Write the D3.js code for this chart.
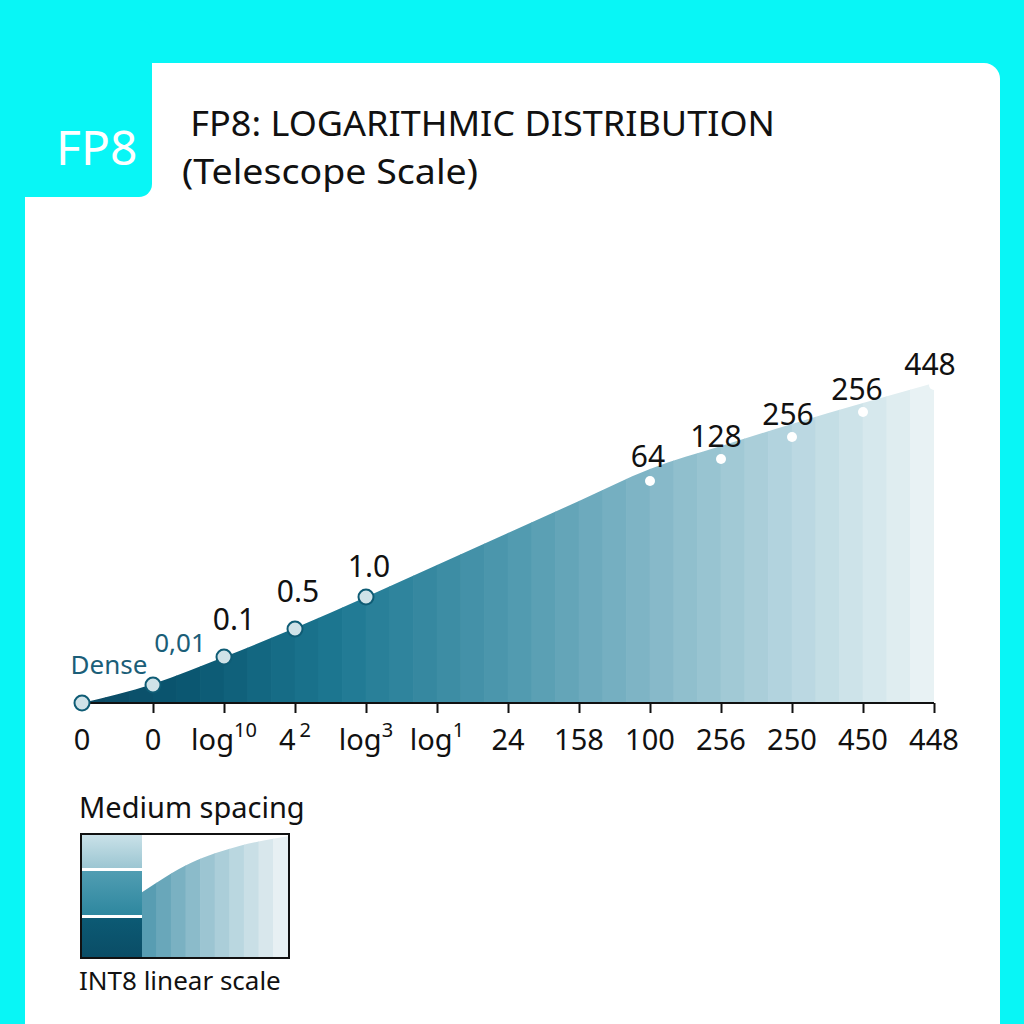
<!DOCTYPE html>
<html>
<head>
<meta charset="utf-8">
<script src="https://cdn.jsdelivr.net/npm/d3@7"></script>
<style>
  html, body { margin: 0; padding: 0; background: #08f6f6; }
  svg { display: block; }
  text { font-family: "Noto Sans", "Open Sans", sans-serif; }
</style>
</head>
<body>
<svg id="chart" width="1024" height="1024"></svg>
<script>
// ---- data ----
const categories = d3.range(13);
const tickLabels = ["0", "0", "log", "4", "log", "log", "24", "158", "100", "256", "250", "450", "448"];
const tickSups   = ["",  "",  "10",  "2", "3",   "1",   "",   "",    "",    "",    "",    "",    ""];
const curveValues = [0, 19, 46, 75, 106, 138, 170, 202, 234, 257, 279, 300, 320];
const markerIndex = [0, 1, 2, 3, 4, 8, 9, 10, 11, 12];
const markerValues = [0, 18, 46, 74, 106, 222, 244, 266, 291, 318];
const markerLabels = ["Dense", "0,01", "0.1", "0.5", "1.0", "64", "128", "256", "256", "448"];
const legendCurve = [0.53, 0.66, 0.77, 0.85, 0.91, 0.955, 0.99];
const titleLines = [" FP8: LOGARITHMIC DISTRIBUTION", "(Telescope Scale)"];
const tabLabel = "FP8";
const legendTitle = "Medium spacing";
const legendCaption = "INT8 linear scale";

// ---- drawing ----
const svg = d3.select("#chart");
const cyan = "#08f6f6";

// background & card
svg.append("rect").attr("x", 0).attr("y", 0).attr("width", 1024).attr("height", 1024).attr("fill", cyan);
svg.append("rect").attr("x", 25).attr("y", 63).attr("width", 975).attr("height", 1100)
  .attr("rx", 16).attr("fill", "#ffffff");
svg.append("rect").attr("x", -40).attr("y", 20).attr("width", 192).attr("height", 177)
  .attr("rx", 13).attr("fill", cyan);
svg.append("text").attr("x", 56).attr("y", 165).attr("font-size", 48).attr("fill", "#ffffff")
  .text(tabLabel);

// title
svg.append("text").attr("x", 181).attr("y", 136).attr("font-size", 34).attr("fill", "#111")
  .attr("textLength", 594).attr("lengthAdjust", "spacingAndGlyphs")
  .attr("xml:space", "preserve").text(titleLines[0]);
svg.append("text").attr("x", 182).attr("y", 184).attr("font-size", 34).attr("fill", "#111")
  .attr("textLength", 296).attr("lengthAdjust", "spacingAndGlyphs")
  .text(titleLines[1]);

// scales
const x = d3.scalePoint().domain(categories).range([82, 934]);
const y = d3.scaleLinear().domain([0, 330]).range([703, 373]);

// area with stripes
const defs = svg.append("defs");
const area = d3.area().x((d, i) => x(i)).y0(y(0)).y1(d => y(d)).curve(d3.curveMonotoneX);
defs.append("clipPath").attr("id", "areaClip").append("path").attr("d", area(curveValues));

const nStripes = 36;
const stripeW = (x(12) - x(0)) / nStripes;
const stripeColor = d3.scaleLinear()
  .domain([0, 0.12, 0.3, 0.5, 0.7, 0.85, 1])
  .range(["#0c4a63", "#0a5670", "#1d7892", "#4e98ae", "#8dbdcc", "#bcd9e2", "#edf4f6"]);
svg.append("g").attr("clip-path", "url(#areaClip)")
  .selectAll("rect").data(d3.range(nStripes)).join("rect")
  .attr("x", i => x(0) + i * stripeW - 0.3)
  .attr("y", y(340))
  .attr("width", stripeW + 0.6)
  .attr("height", y(0) - y(340))
  .attr("fill", i => stripeColor((i + 0.5) / nStripes));

// axis
const axis = d3.axisBottom(x).tickSize(10).tickFormat("");
const gAxis = svg.append("g").attr("transform", `translate(0,${y(0)})`).call(axis);
gAxis.select(".domain").attr("stroke", "#111").attr("stroke-width", 2).attr("d", `M${x(0)},0H${x(12)}`);
gAxis.selectAll(".tick line").attr("stroke", "#111").attr("stroke-width", 2);
gAxis.selectAll(".tick").filter(d => d === 0).remove();

// tick labels with superscripts
const tl = svg.append("g").selectAll("text").data(categories).join("text")
  .attr("x", d => x(d)).attr("y", 750).attr("font-size", 29).attr("fill", "#111")
  .attr("text-anchor", "middle");
tl.append("tspan").text(d => tickLabels[d]);
tl.filter(d => tickSups[d] !== "").append("tspan")
  .attr("dx", d => tickLabels[d] === "4" ? 4 : 0)
  .attr("dy", -13).attr("font-size", 20).text(d => tickSups[d]);

// markers
const markers = markerIndex.map((idx, k) => ({ idx, v: markerValues[k], label: markerLabels[k], k }));
svg.append("g").selectAll("circle").data(markers).join("circle")
  .attr("cx", d => x(d.idx)).attr("cy", d => y(d.v))
  .attr("r", d => d.k < 5 ? 7.5 : 5)
  .attr("fill", d => d.k < 5 ? "#cfe2e8" : "#ffffff")
  .attr("stroke", d => d.k < 5 ? "#0f5c75" : "none")
  .attr("stroke-width", 2);

const labelOffsets = [[27, -29], [27, -33], [10, -27], [3, -27], [3, -20],
                      [-2, -14], [-5, -12], [-4, -12], [-6, -12], [-4, -10]];
svg.append("g").selectAll("text").data(markers).join("text")
  .attr("x", d => x(d.idx) + labelOffsets[d.k][0])
  .attr("y", d => y(d.v) + labelOffsets[d.k][1])
  .attr("text-anchor", "middle")
  .attr("font-size", d => d.k < 2 ? 26 : 30)
  .attr("fill", d => d.k < 2 ? "#1b5e78" : "#111")
  .text(d => d.label);

// legend
svg.append("text").attr("x", 79).attr("y", 818).attr("font-size", 29).attr("fill", "#111").text(legendTitle);
svg.append("text").attr("x", 79).attr("y", 990).attr("font-size", 26).attr("fill", "#111").text(legendCaption);

const lg = svg.append("g");
const lx0 = 82, lx1 = 142, lx2 = 288, ly0 = 835, ly1 = 957;
// left bands
const bandGrad = (id, c0, c1) => {
  const g = defs.append("linearGradient").attr("id", id).attr("x1", 0).attr("y1", 0).attr("x2", 0).attr("y2", 1);
  g.append("stop").attr("offset", 0).attr("stop-color", c0);
  g.append("stop").attr("offset", 1).attr("stop-color", c1);
};
bandGrad("b1", "#c9e1e8", "#9cc6d2");
bandGrad("b2", "#519db2", "#2e879f");
bandGrad("b3", "#0c5a74", "#0a4d66");
lg.append("rect").attr("x", lx0).attr("y", ly0).attr("width", lx1 - lx0).attr("height", 33).attr("fill", "url(#b1)");
lg.append("rect").attr("x", lx0).attr("y", 871).attr("width", lx1 - lx0).attr("height", 44).attr("fill", "url(#b2)");
lg.append("rect").attr("x", lx0).attr("y", 918).attr("width", lx1 - lx0).attr("height", ly1 - 918).attr("fill", "url(#b3)");

// right mini area
const lxs = d3.scalePoint().domain(d3.range(legendCurve.length)).range([lx1, lx2]);
const lys = d3.scaleLinear().domain([0, 1]).range([ly1, ly0]);
const lArea = d3.area().x((d, i) => lxs(i)).y0(ly1).y1(d => lys(d)).curve(d3.curveMonotoneX);
defs.append("clipPath").attr("id", "legClip").append("path").attr("d", lArea(legendCurve));
const lN = 10, lW = (lx2 - lx1) / lN;
const lColor = d3.scaleLinear().domain([0, 0.5, 1]).range(["#5098ae", "#a4cad6", "#eef4f6"]);
lg.append("g").attr("clip-path", "url(#legClip)").selectAll("rect").data(d3.range(lN)).join("rect")
  .attr("x", i => lx1 + i * lW - 0.3).attr("y", ly0).attr("width", lW + 0.6).attr("height", ly1 - ly0)
  .attr("fill", i => lColor((i + 0.5) / lN));
lg.append("rect").attr("x", lx0 - 1).attr("y", ly0 - 1).attr("width", lx2 - lx0 + 2).attr("height", ly1 - ly0 + 2)
  .attr("fill", "none").attr("stroke", "#111").attr("stroke-width", 2);
</script>
</body>
</html>
